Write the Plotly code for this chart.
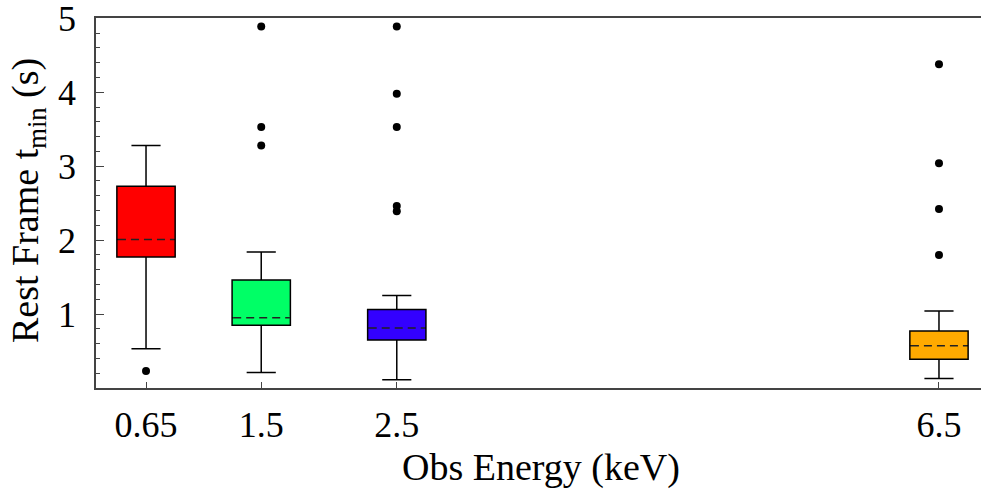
import plotly.graph_objects as go

# ---- data ----
energies = [0.65, 1.5, 2.5, 6.5]
tick_labels = ["0.65", "1.5", "2.5", "6.5"]
y_ticks = [1, 2, 3, 4, 5]
colors = ["#FF0000", "#00FF66", "#3300FF", "#FFAA00"]

lower_whisker = [0.53, 0.21, 0.11, 0.13]
q1 = [1.77, 0.85, 0.65, 0.39]
median = [2.01, 0.95, 0.81, 0.57]
q3 = [2.73, 1.46, 1.06, 0.77]
upper_whisker = [3.28, 1.84, 1.25, 1.04]

outliers = [
    [0.23],
    [4.89, 3.53, 3.28],
    [4.89, 3.98, 3.53, 2.46, 2.39],
    [4.38, 3.04, 2.42, 1.80],
]

box_width = 0.43
font_family = "Liberation Serif, Times New Roman, serif"

W, H = 981, 498
L, T, B = 96, 18, 110
PW, PH = W - L, H - T - B

fig = go.Figure()

for i, e in enumerate(energies):
    fig.add_trace(go.Box(
        x=[e], q1=[q1[i]], median=[median[i]], q3=[q3[i]],
        lowerfence=[lower_whisker[i]], upperfence=[upper_whisker[i]],
        width=box_width, whiskerwidth=0.5,
        fillcolor=colors[i], line=dict(color="black", width=1.5),
        boxpoints=False, showlegend=False, hoverinfo="skip",
    ))

# dashed median lines (cover the solid median with fill colour, then dash)
for i, e in enumerate(energies):
    xs = [e - box_width / 2 + 0.008, e + box_width / 2 - 0.008]
    ys = [median[i], median[i]]
    fig.add_trace(go.Scatter(x=xs, y=ys, mode="lines",
                             line=dict(color=colors[i], width=3),
                             showlegend=False, hoverinfo="skip"))
    fig.add_trace(go.Scatter(x=xs, y=ys, mode="lines",
                             line=dict(color="#222", width=1.5, dash="8px,5px"),
                             showlegend=False, hoverinfo="skip"))

# outliers
ox, oy = [], []
for i, e in enumerate(energies):
    for v in outliers[i]:
        ox.append(e)
        oy.append(v)
fig.add_trace(go.Scatter(x=ox, y=oy, mode="markers",
                         marker=dict(color="black", size=8),
                         showlegend=False, hoverinfo="skip"))

fig.update_layout(
    width=W, height=H,
    margin=dict(l=L, r=0, t=T, b=B, autoexpand=False),
    paper_bgcolor="white", plot_bgcolor="white",
    font=dict(family=font_family, size=36, color="black"),
    xaxis=dict(
        range=[0.281, 6.81], tickvals=energies, ticktext=tick_labels,
        ticks="inside", ticklen=6, tickwidth=1.2, tickcolor="#444",
        showline=True, linecolor="#444", linewidth=1.5, mirror=True,
        showgrid=False, zeroline=False, ticklabelstandoff=4,
        automargin=False, ticklabeloverflow="allow",
        tickfont=dict(family=font_family, size=36, color="black"),
    ),
    yaxis=dict(
        range=[0, 5.004], tickvals=y_ticks,
        ticks="inside", ticklen=8, tickwidth=1.2, tickcolor="#444",
        minor=dict(dtick=0.2, ticks="inside", ticklen=4, tickcolor="#444", tickwidth=1),
        showline=True, linecolor="#444", linewidth=1.5, mirror=False,
        showgrid=False, zeroline=False, ticklabelstandoff=11,
        automargin=False, ticklabeloverflow="allow",
        tickfont=dict(family=font_family, size=36, color="black"),
    ),
    annotations=[
        dict(text="Obs Energy (keV)", xref="paper", yref="paper",
             x=(541 - L) / PW, y=((H - B) - 467) / PH,
             xanchor="center", yanchor="middle", showarrow=False,
             font=dict(family=font_family, size=38, color="black")),
        dict(text="Rest Frame t<sub>min</sub> (s)", xref="paper", yref="paper",
             x=(28 - L) / PW, y=((H - B) - 201) / PH, textangle=-90,
             xanchor="center", yanchor="middle", showarrow=False,
             font=dict(family=font_family, size=38, color="black")),
    ],
)

fig.write_html("out.html",
               config={"displayModeBar": False},
               post_script="document.body.style.margin='0';document.body.style.overflow='hidden';")
